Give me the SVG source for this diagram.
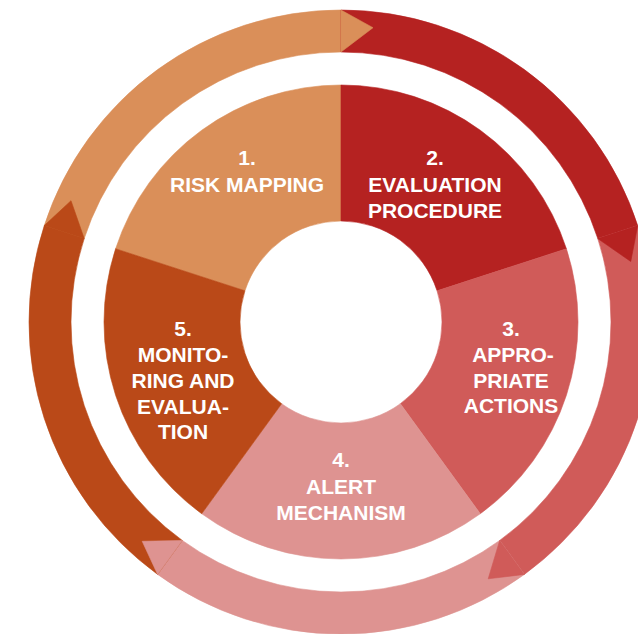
<svg xmlns="http://www.w3.org/2000/svg" width="638" height="634" viewBox="0 0 638 634">
<style>
.c1{fill:#DA8F59;stroke:#DA8F59}
.c2{fill:#B52221;stroke:#B52221}
.c3{fill:#D05B59;stroke:#D05B59}
.c4{fill:#DE9391;stroke:#DE9391}
.c5{fill:#BA4918;stroke:#BA4918}
path{stroke-width:0.6;stroke-linejoin:miter}
text{font-family:"Liberation Sans",Arial,sans-serif;font-weight:bold;font-size:21px;fill:#FFFFFF;text-anchor:middle}
</style>
<rect width="638" height="634" fill="#FFFFFF"/>
<g id="connectors">
<path class="c1" d="M44.27,225.59 A312,312 0 0 1 341,10 L341,52 A270,270 0 0 0 84.21,238.57 Z"/>
<path class="c2" d="M341,10 A312,312 0 0 1 637.73,225.59 L597.79,238.57 A270,270 0 0 0 341,52 Z"/>
<path class="c3" d="M637.73,225.59 A312,312 0 0 1 524.39,574.41 L499.70,540.43 A270,270 0 0 0 597.79,238.57 Z"/>
<path class="c4" d="M524.39,574.41 A312,312 0 0 1 157.61,574.41 L182.30,540.43 A270,270 0 0 0 499.70,540.43 Z"/>
<path class="c5" d="M157.61,574.41 A312,312 0 0 1 44.27,225.59 L84.21,238.57 A270,270 0 0 0 182.30,540.43 Z"/>
<path class="c1" d="M341,10 L373,27.7 L341,52 Z"/>
<path class="c2" d="M637.73,225.59 L630.75,261.47 L597.79,238.57 Z"/>
<path class="c3" d="M524.39,574.41 L488.2,578.8 L499.70,540.43 Z"/>
<path class="c4" d="M157.61,574.41 L142.2,541.3 L182.30,540.43 Z"/>
<path class="c5" d="M44.27,225.59 L71.0,200.7 L84.21,238.57 Z"/>
</g>
<g id="node1">
<path class="c1" d="M115.60,248.76 A237,237 0 0 1 341,85 L341,221 A101,101 0 0 0 244.94,290.79 Z"/>
<text x="247" y="165">1.</text>
<text x="247" y="192">RISK MAPPING</text>
</g>
<g id="node2">
<path class="c2" d="M341,85 A237,237 0 0 1 566.40,248.76 L437.06,290.79 A101,101 0 0 0 341,221 Z"/>
<text x="435" y="165">2.</text>
<text x="435" y="192">EVALUATION</text>
<text x="435" y="218">PROCEDURE</text>
</g>
<g id="node3">
<path class="c3" d="M566.40,248.76 A237,237 0 0 1 480.30,513.74 L400.37,403.71 A101,101 0 0 0 437.06,290.79 Z"/>
<text x="511" y="336">3.</text>
<text x="513" y="362">APPRO-</text>
<text x="511" y="388">PRIATE</text>
<text x="511" y="413">ACTIONS</text>
</g>
<g id="node4">
<path class="c4" d="M480.30,513.74 A237,237 0 0 1 201.70,513.74 L281.63,403.71 A101,101 0 0 0 400.37,403.71 Z"/>
<text x="341" y="467">4.</text>
<text x="341" y="494">ALERT</text>
<text x="341" y="520">MECHANISM</text>
</g>
<g id="node5">
<path class="c5" d="M201.70,513.74 A237,237 0 0 1 115.60,248.76 L244.94,290.79 A101,101 0 0 0 281.63,403.71 Z"/>
<text x="183" y="336">5.</text>
<text x="183" y="362">MONITO-</text>
<text x="183" y="388">RING AND</text>
<text x="183" y="414">EVALUA-</text>
<text x="183" y="439">TION</text>
</g>
</svg>
